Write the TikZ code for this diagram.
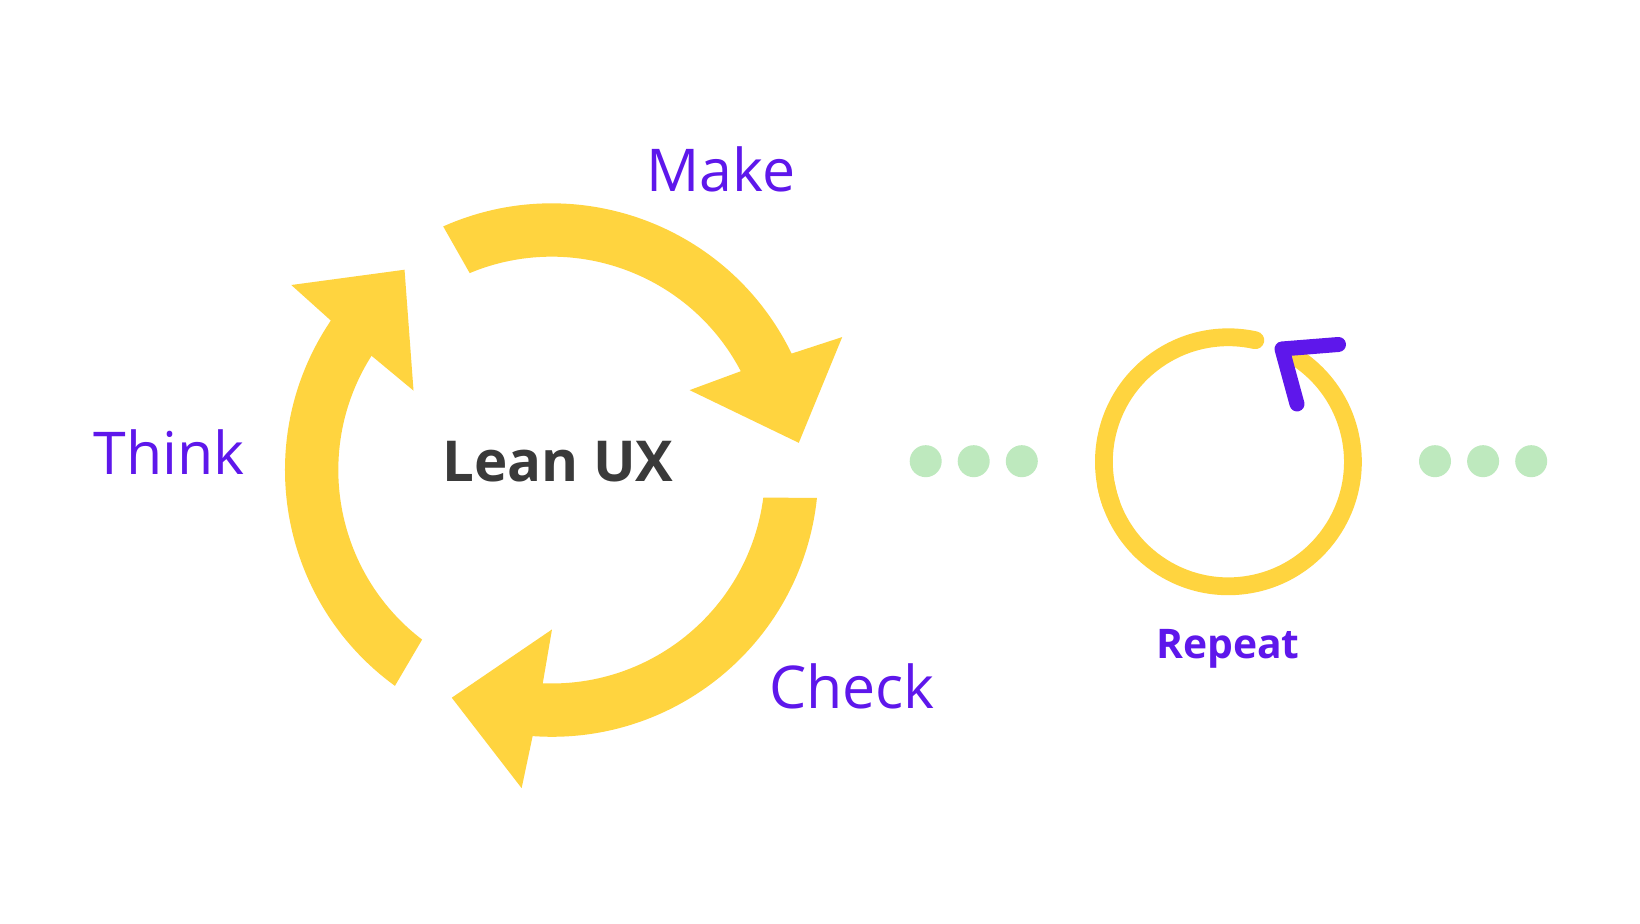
\documentclass[tikz,border=0pt]{standalone}
\usepackage{fontspec}
\setmainfont{Open Sans}

\definecolor{leanyellow}{HTML}{FFD43F}
\definecolor{leanpurple}{HTML}{5E17EB}
\definecolor{leangreen}{HTML}{BEE9BE}
\definecolor{leangray}{HTML}{3A3A3A}

\begin{document}
\begin{tikzpicture}
[
    x = 0.5pt, y = 0.5pt,
    stage/.style = {text = leanpurple, anchor = base, font = \fontsize{29.5}{35}\selectfont},
    title/.style = {text = leangray, anchor = base, font = \fontsize{28.2}{34}\selectfont\bfseries},
    repeat label/.style = {text = leanpurple, anchor = base, font = \fontsize{20.4}{25}\selectfont\bfseries},
    dot/.style = {circle, fill = leangreen, minimum size = 16pt, inner sep = 0},
    ring/.style = {leanyellow, line width = 8.9pt}]

\fill [white] (0,0) rectangle (1640,924);
\useasboundingbox (0,0) rectangle (1640,924);

% the three cycle arrows
\foreach \r in {0, -120, -240}
    \fill [leanyellow, shift = {(551.7,453.9)}, rotate = \r]
        (234:266.7) arc [start angle = 234, end angle = 145.9, radius = 266.7]
        -- (144.6:319.5) -- (126.3:248.6) -- (150.1:159.4) -- (147.6:213.4)
        arc [start angle = 147.6, end angle = 232.6, radius = 213.4] -- cycle;

\node [title] (lean) at (558,442) {Lean UX};
\node [stage] (think) at (169,449) {Think};
\node [stage] (make) at (721,732) {Make};
\node [stage] (check) at (852,215) {Check};

% dots
\foreach \x [count = \i] in {925.7, 973.7, 1021.8}
    \node [dot] (ldot\i) at (\x,462.8) {};
\foreach \x [count = \i] in {1435, 1483.1, 1531.2}
    \node [dot] (rdot\i) at (\x,462.8) {};

% repeat icon
\coordinate (loop) at (1228.4,462.2);
\draw [ring, line cap = round]
    (loop) ++(77.5:124.5) arc [start angle = 77.5, end angle = 200, radius = 124.5];
\draw [ring]
    (loop) ++(190:124.5) arc [start angle = 190, end angle = 423, radius = 124.5];
\draw [leanpurple, line width = 7.5pt, line cap = round, line join = round]
    (1338.5,579.5) -- (1282,575) -- (1297,520);
\node [repeat label] (repeat) at (1228,265) {Repeat};

\end{tikzpicture}
\end{document}
